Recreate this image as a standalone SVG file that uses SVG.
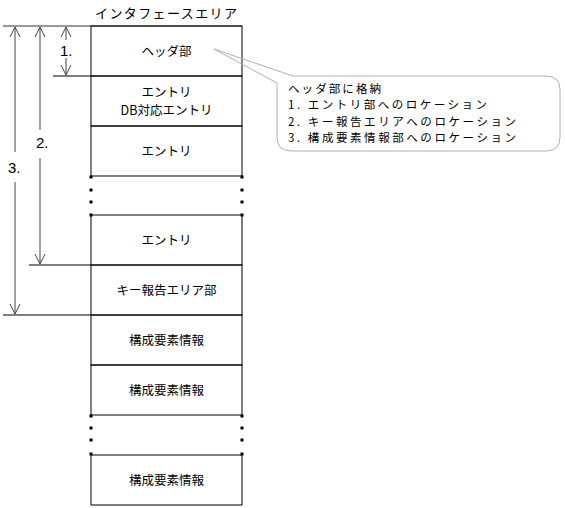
<svg xmlns="http://www.w3.org/2000/svg" width="565" height="508" viewBox="0 0 565 508">
<style>
text{font-family:"Noto Sans CJK JP","Liberation Sans",sans-serif;fill:#000}
.lbl{font-size:12.5px;text-anchor:middle}
.num{font-size:15px;font-family:"Liberation Sans","Noto Sans CJK JP",sans-serif}
.box{fill:none;stroke:#000;stroke-width:1}
.sep{stroke:#000;stroke-width:1;fill:none}
.arr{stroke:#444;stroke-width:1;fill:none}
.dot{fill:#000}
.co{font-size:11.5px}
</style>
<defs>
<marker id="ah" viewBox="0 0 12 12" refX="11" refY="6" markerWidth="12" markerHeight="12" markerUnits="userSpaceOnUse" orient="auto">
<path d="M1,1 L11,6 L1,11" fill="none" stroke="#444" stroke-width="1"/>
</marker>
</defs>
<rect width="565" height="508" fill="#fff"/>
<text x="166" y="18" font-size="13" text-anchor="middle" textLength="142" lengthAdjust="spacing">インタフェースエリア</text>
<g id="connectors">
<line x1="3" y1="26" x2="242" y2="26" stroke="#777" stroke-width="1.5"/>
<line class="sep" x1="53" y1="76" x2="91" y2="76"/>
<line class="sep" x1="29" y1="265" x2="91" y2="265"/>
<line class="sep" x1="3" y1="315" x2="91" y2="315"/>
<line class="arr" x1="66" y1="40" x2="66" y2="27" marker-end="url(#ah)"/>
<line class="arr" x1="66" y1="58" x2="66" y2="75" marker-end="url(#ah)"/>
<line class="arr" x1="40" y1="130" x2="40" y2="27" marker-end="url(#ah)"/>
<line class="arr" x1="40" y1="158" x2="40" y2="264" marker-end="url(#ah)"/>
<line class="arr" x1="15" y1="152" x2="15" y2="27" marker-end="url(#ah)"/>
<line class="arr" x1="15" y1="182" x2="15" y2="314" marker-end="url(#ah)"/>
<text class="num" x="60" y="56">1.</text>
<text class="num" x="36" y="148">2.</text>
<text class="num" x="8" y="173">3.</text>
</g>
<g id="header">
<rect class="box" x="91" y="26" width="151" height="50"/>
<text class="lbl" x="166.5" y="56">ヘッダ部</text>
</g>
<g id="entry1">
<rect class="box" x="91" y="76" width="151" height="50"/>
<text class="lbl" x="166.5" y="97">エントリ</text>
<text class="lbl" x="166.5" y="115">DB対応エントリ</text>
</g>
<g id="entry2">
<rect class="box" x="91" y="126" width="151" height="50"/>
<text class="lbl" x="166.5" y="156">エントリ</text>
</g>
<g id="gap1">
<rect class="dot" x="89.5" y="175.5" width="3" height="3"/>
<rect class="dot" x="89.5" y="188.5" width="3" height="3"/>
<rect class="dot" x="89.5" y="200.5" width="3" height="3"/>
<rect class="dot" x="89.5" y="213.5" width="3" height="3"/>
<rect class="dot" x="240.5" y="175.5" width="3" height="3"/>
<rect class="dot" x="240.5" y="188.5" width="3" height="3"/>
<rect class="dot" x="240.5" y="200.5" width="3" height="3"/>
<rect class="dot" x="240.5" y="213.5" width="3" height="3"/>
</g>
<g id="entry3">
<rect class="box" x="91" y="215" width="151" height="50"/>
<text class="lbl" x="166.5" y="245">エントリ</text>
</g>
<g id="keyreport">
<rect class="box" x="91" y="265" width="151" height="50"/>
<text class="lbl" x="166.5" y="295">キー報告エリア部</text>
</g>
<g id="comp1">
<rect class="box" x="91" y="315" width="151" height="50"/>
<text class="lbl" x="166.5" y="345">構成要素情報</text>
</g>
<g id="comp2">
<rect class="box" x="91" y="365" width="151" height="50"/>
<text class="lbl" x="166.5" y="395">構成要素情報</text>
</g>
<g id="gap2">
<rect class="dot" x="89.5" y="414.5" width="3" height="3"/>
<rect class="dot" x="89.5" y="426.5" width="3" height="3"/>
<rect class="dot" x="89.5" y="438.5" width="3" height="3"/>
<rect class="dot" x="89.5" y="452.5" width="3" height="3"/>
<rect class="dot" x="240.5" y="414.5" width="3" height="3"/>
<rect class="dot" x="240.5" y="426.5" width="3" height="3"/>
<rect class="dot" x="240.5" y="438.5" width="3" height="3"/>
<rect class="dot" x="240.5" y="452.5" width="3" height="3"/>
</g>
<g id="comp3">
<rect class="box" x="91" y="455" width="151" height="50"/>
<text class="lbl" x="166.5" y="485">構成要素情報</text>
</g>
<g id="callout">
<path d="M293,76 L546,76 Q560,76 560,90 L560,137 Q560,151 546,151 L291,151 Q277,151 277,137 L277,83 L214,49 Z" fill="none" stroke="#b0b0b0" stroke-width="1"/>
<text class="co" x="288" y="93" textLength="93" lengthAdjust="spacing">ヘッダ部に格納</text>
<text class="co" x="288" y="109" textLength="199" lengthAdjust="spacing">1. エントリ部へのロケーション</text>
<text class="co" x="288" y="126" textLength="228" lengthAdjust="spacing">2. キー報告エリアへのロケーション</text>
<text class="co" x="288" y="142" textLength="228" lengthAdjust="spacing">3. 構成要素情報部へのロケーション</text>
</g>
</svg>
